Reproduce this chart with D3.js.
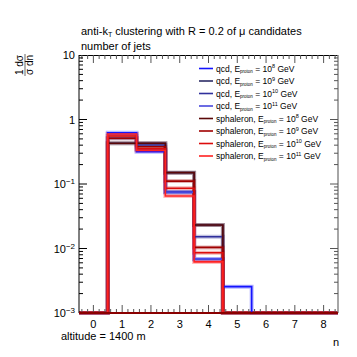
<!DOCTYPE html>
<html><head><meta charset="utf-8">
<script src="https://cdn.jsdelivr.net/npm/d3@7"></script>
<style>body{margin:0;background:#fff}svg{display:block}text{font-family:"Liberation Sans",Arial,sans-serif;fill:#000}</style>
</head><body>
<script>
// ---- data ----
const binEdges = [-0.5,0.5,1.5,2.5,3.5,4.5,5.5,6.5,7.5,8.5];
const seriesNames = ["qcd","qcd","qcd","qcd","sphaleron","sphaleron","sphaleron","sphaleron"];
const seriesExp = ["8","9","10","11","8","9","10","11"];
const seriesColors = ["#1414ff","#2c2c66","#30309c","#4848dc","#5a0808","#a00000","#dc0c0c","#ff2222"];
const qcd8  = [0,0.624,0.317,0.0743,0.0068,0.00256,0,0,0];
const qcd9  = [0,0.428,0.428,0.150,0.0231,0,0,0,0];
const qcd10 = [0,0.512,0.403,0.0743,0.0152,0,0,0,0];
const qcd11 = [0,0.596,0.337,0.0743,0.0068,0,0,0,0];
const sph8  = [0,0.428,0.428,0.150,0.0231,0,0,0,0];
const sph9  = [0,0.512,0.379,0.111,0.0104,0,0,0,0];
const sph10 = [0,0.555,0.350,0.0857,0.0086,0,0,0,0];
const sph11 = [0,0.596,0.330,0.0652,0.0062,0,0,0,0];
const seriesValues = [qcd8,qcd9,qcd10,qcd11,sph8,sph9,sph10,sph11];
const xTicks = [0,1,2,3,4,5,6,7,8];
const yTickExp = [1,0,-1,-2,-3];

// ---- layout ----
const W=357,H=357;
const L=79,R=338,T=55,B=313;
const svg=d3.select("body").append("svg").attr("width",W).attr("height",H);
const x=d3.scaleLinear().domain([-0.5,8.5]).range([L,R]);
const y=d3.scaleLog().domain([1e-3,10]).range([B,T]);
const yc=v=>v<=1e-3?B:y(v);

// histograms
svg.append("clipPath").attr("id","c").append("rect").attr("x",L-1).attr("y",T).attr("width",R-L+2).attr("height",B-T+1.5);
const gh=svg.append("g").attr("clip-path","url(#c)");
function stepPath(vals){
  let p=[];
  for(let i=0;i<vals.length;i++){
    p.push([x(binEdges[i]),yc(vals[i])]);
    p.push([x(binEdges[i+1]),yc(vals[i])]);
  }
  return d3.line()(p);
}
seriesValues.forEach((vals,i)=>{
  gh.append("path").attr("d",stepPath(vals)).attr("fill","none")
    .attr("stroke",seriesColors[i]).attr("stroke-opacity",0.3).attr("stroke-width",4);
});
seriesValues.forEach((vals,i)=>{
  gh.append("path").attr("d",stepPath(vals)).attr("fill","none")
    .attr("stroke",seriesColors[i]).attr("stroke-width",1.6);
});

// frame
const ax=svg.append("g").attr("stroke","#000").attr("stroke-width",1);
ax.append("line").attr("x1",L).attr("x2",L).attr("y1",T).attr("y2",B);
ax.append("line").attr("x1",L).attr("x2",R).attr("y1",T+0.5).attr("y2",T+0.5);
ax.append("line").attr("x1",R).attr("x2",R).attr("y1",T).attr("y2",B).attr("stroke","#888").attr("stroke-width",1.5);
// x ticks (bottom & top)
const xMinor=d3.range(-0.4,8.5,0.2);
xMinor.forEach(v=>{
  const isMaj=Math.abs(v-Math.round(v))<1e-6;
  const len=isMaj?8:4;
  ax.append("line").attr("x1",x(v)).attr("x2",x(v)).attr("y1",B).attr("y2",B-len).attr("stroke","#555");
  ax.append("line").attr("x1",x(v)).attr("x2",x(v)).attr("y1",T).attr("y2",T+len).attr("stroke","#555");
});
// y ticks (left & right)
for(let e=-3;e<1;e++){
  for(let m=1;m<10;m++){
    const v=m*Math.pow(10,e);
    const len=m===1?8:4;
    ax.append("line").attr("x1",L).attr("x2",L+len).attr("y1",y(v)).attr("y2",y(v));
    ax.append("line").attr("x1",R).attr("x2",R-len).attr("y1",y(v)).attr("y2",y(v)).attr("stroke","#555");
  }
}
// bottom axis line on top
ax.append("line").attr("x1",L).attr("x2",R).attr("y1",B).attr("y2",B).attr("stroke","#8a0000").attr("stroke-width",2);

// x tick labels
svg.append("g").selectAll("text").data(xTicks).join("text")
  .attr("x",d=>x(d)).attr("y",328).attr("text-anchor","middle").attr("font-size",11).text(d=>d);
// y tick labels
yTickExp.forEach(e=>{
  const t=svg.append("text").attr("x",75).attr("y",y(Math.pow(10,e))+4).attr("text-anchor","end").attr("font-size",11);
  if(e===1) t.text("10");
  else if(e===0) t.text("1");
  else { t.append("tspan").text("10"); t.append("tspan").attr("dy",-4).attr("font-size",8).text("\u2212"+(-e)); }
});

// titles
const t1=svg.append("text").attr("x",81).attr("y",35).attr("font-size",11);
t1.append("tspan").text("anti-k");
t1.append("tspan").attr("dy",2).attr("font-size",7).text("T");
t1.append("tspan").attr("dy",-2).text(" clustering with R = 0.2 of \u03bc candidates");
svg.append("text").attr("x",81).attr("y",49.5).attr("font-size",11).text("number of jets");
svg.append("text").attr("x",61).attr("y",340).attr("font-size",11).text("altitude = 1400 m");
svg.append("text").attr("x",333).attr("y",346).attr("font-size",11).text("n");

// y title (rotated fraction)
const yt=svg.append("g").attr("transform","translate(25,65) rotate(-90)");
yt.append("text").attr("x",0).attr("y",-2).attr("text-anchor","middle").attr("font-size",10).text("1 d\u03c3");
yt.append("line").attr("x1",-11).attr("x2",11).attr("y1",0).attr("y2",0).attr("stroke","#000").attr("stroke-width",0.6);
yt.append("text").attr("x",0).attr("y",8).attr("text-anchor","middle").attr("font-size",10).text("\u03c3 dn");

// legend
const lg=svg.append("g");
seriesValues.forEach((vals,i)=>{
  const yy=68.5+i*12.5;
  lg.append("line").attr("x1",199).attr("x2",213).attr("y1",yy).attr("y2",yy).attr("stroke",seriesColors[i]).attr("stroke-width",1.6);
  const t=lg.append("text").attr("x",216).attr("y",yy+3).attr("font-size",8.5);
  t.append("tspan").text(seriesNames[i]+", E");
  t.append("tspan").attr("dy",1.5).attr("font-size",4.5).text("proton");
  t.append("tspan").attr("dy",-1.5).text(" = 10");
  t.append("tspan").attr("dy",-3.5).attr("font-size",5.5).text(seriesExp[i]);
  t.append("tspan").attr("dy",3.5).text(" GeV");
});
</script>
</body></html>
